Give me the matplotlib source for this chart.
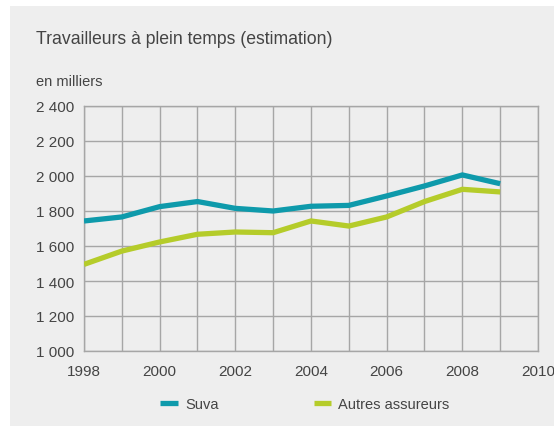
import matplotlib
matplotlib.use("Agg")
import matplotlib.pyplot as plt
from matplotlib.patches import Rectangle

years = [1998, 1999, 2000, 2001, 2002, 2003, 2004, 2005, 2006, 2007, 2008, 2009]
suva = [1743, 1766, 1825, 1854, 1815, 1800, 1827, 1832, 1886, 1943, 2006, 1956]
autres = [1495, 1571, 1623, 1667, 1680, 1676, 1743, 1714, 1766, 1854, 1924, 1909]
yticks = [1000, 1200, 1400, 1600, 1800, 2000, 2200, 2400]
ytick_labels = ["1 000", "1 200", "1 400", "1 600", "1 800", "2 000", "2 200", "2 400"]
xticks = [1998, 2000, 2002, 2004, 2006, 2008, 2010]
title = "Travailleurs à plein temps (estimation)"
unit = "en milliers"
series_names = ["Suva", "Autres assureurs"]

plt.rcParams['font.family'] = ['Liberation Sans', 'DejaVu Sans']
W, H = 554, 427
fig = plt.figure(figsize=(W / 100, H / 100), dpi=100)
fig.patch.set_facecolor("white")
fig.patches.append(Rectangle((10 / W, 0), 1 - 10 / W, 1 - 7 / H, transform=fig.transFigure,
                             facecolor="#eeeeee", edgecolor="none", zorder=-10))

ax = fig.add_axes([84 / W, 1 - 352 / H, (538 - 84) / W, (352 - 107) / H])
ax.set_zorder(1)
ax.set_facecolor("#eeeeee")
ax.set_xlim(1998, 2010)
ax.set_ylim(1000, 2400)
ax.set_xticks(range(1998, 2011))
ax.set_xticklabels([str(y) if y in xticks else "" for y in range(1998, 2011)])
ax.set_yticks(yticks)
ax.set_yticklabels(ytick_labels)
ax.grid(True, color="#a6a6a6", linewidth=1.0)
ax.set_axisbelow(True)
for s in ax.spines.values():
    s.set_color("#a6a6a6")
    s.set_linewidth(1.0)
ax.tick_params(length=0, labelsize=11, colors="#444444", pad=7)
ax.tick_params(axis="x", pad=9)

ax.plot(years, suva, color="#0e9aab", linewidth=3.8, solid_joinstyle="miter", solid_capstyle="butt",
        label=series_names[0], zorder=3)
ax.plot(years, autres, color="#b5cc2a", linewidth=3.8, solid_joinstyle="miter", solid_capstyle="butt",
        label=series_names[1], zorder=3)

fig.text(36 / W, 1 - 40 / H, title, fontsize=12.7, color="#444444", va="center", ha="left")
fig.text(36 / W, 1 - 82 / H, unit, fontsize=10.5, color="#444444", va="center", ha="left")

leg = fig.legend(loc="center", bbox_to_anchor=(305 / W, 1 - 405 / H), ncol=2, frameon=False,
                 fontsize=10.5, handlelength=1.2, columnspacing=6.5, handletextpad=0.5)
leg.set_zorder(2)
for t in leg.get_texts():
    t.set_color("#444444")

fig.savefig("out.png", dpi=100, facecolor=fig.get_facecolor())
